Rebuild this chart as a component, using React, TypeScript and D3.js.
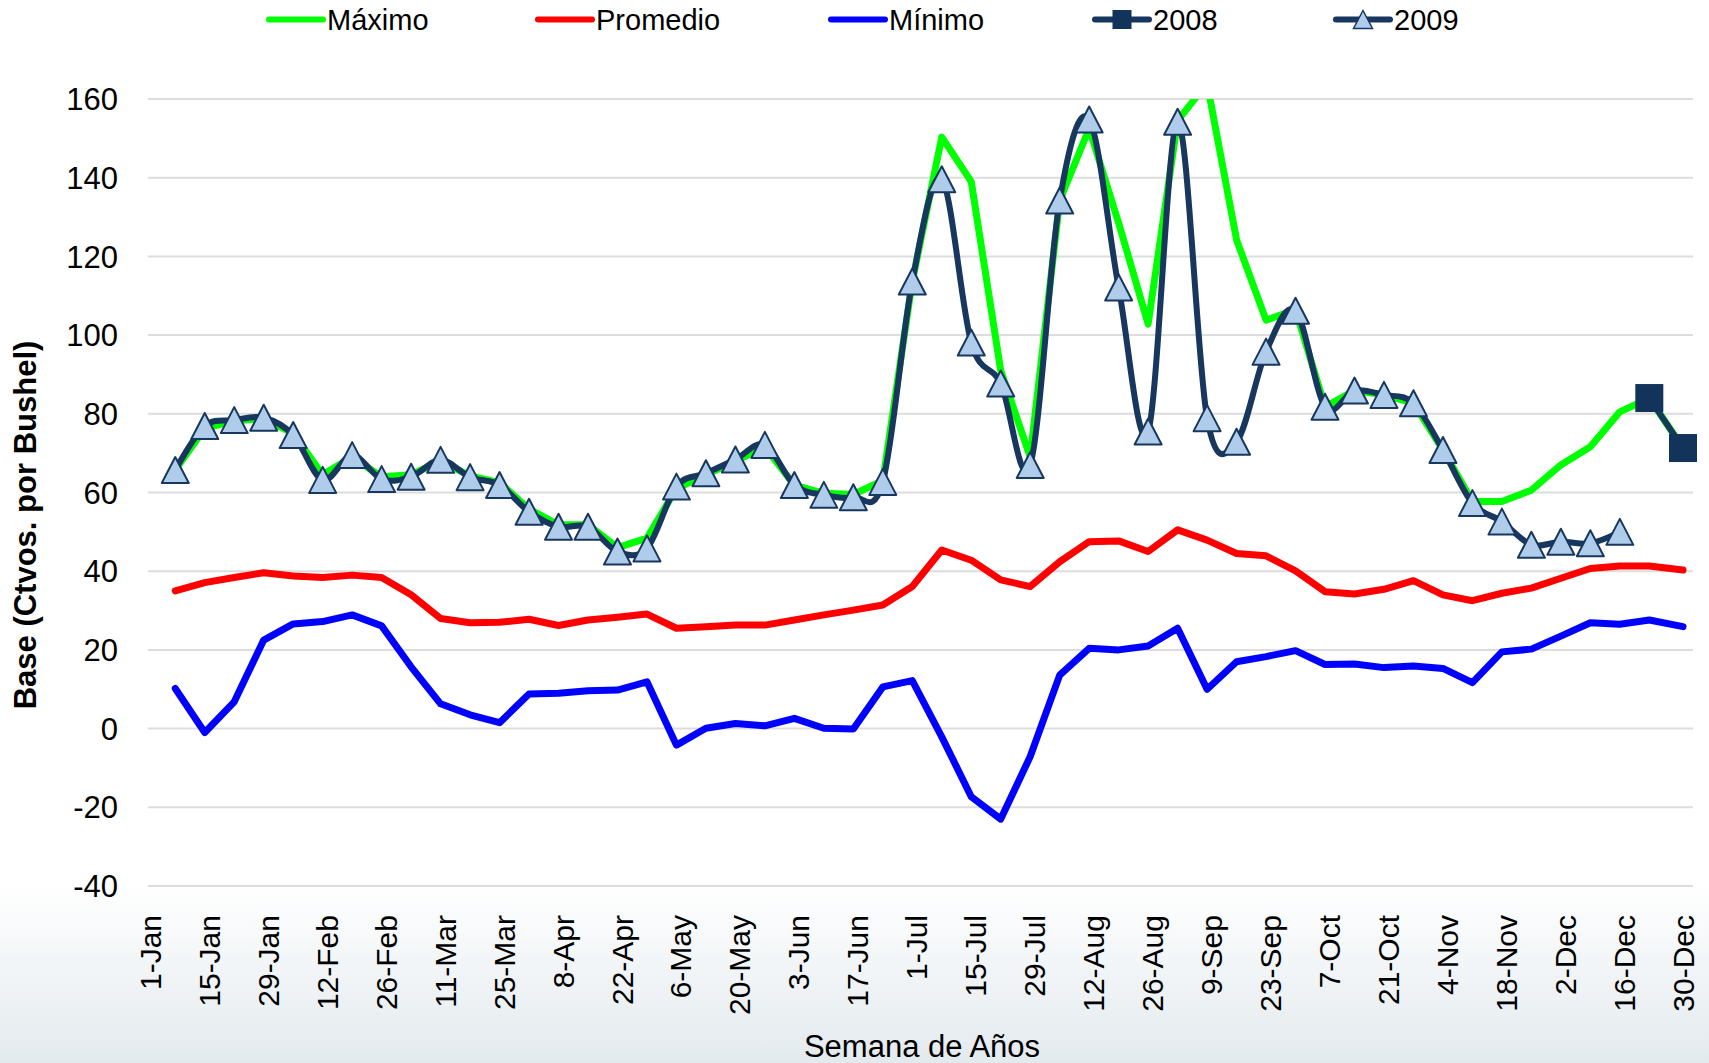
import React, { useEffect, useRef } from "react";
import * as d3 from "d3";

// Semanas (fechas de cada observación semanal)
const weeks = [
  "7-Jan", "14-Jan", "21-Jan", "28-Jan", "4-Feb", "11-Feb", "18-Feb", "25-Feb",
  "3-Mar", "10-Mar", "17-Mar", "24-Mar", "31-Mar", "7-Apr", "14-Apr", "21-Apr",
  "28-Apr", "5-May", "12-May", "19-May", "26-May", "2-Jun", "9-Jun", "16-Jun",
  "23-Jun", "30-Jun", "7-Jul", "14-Jul", "21-Jul", "28-Jul", "4-Aug", "11-Aug",
  "18-Aug", "25-Aug", "1-Sep", "8-Sep", "15-Sep", "22-Sep", "29-Sep", "6-Oct",
  "13-Oct", "20-Oct", "27-Oct", "3-Nov", "10-Nov", "17-Nov", "24-Nov", "1-Dec",
  "8-Dec", "15-Dec", "22-Dec", "30-Dec",
];

const maximo = [
  65.7, 76.3, 78.2, 78.8, 75.0, 64.5, 69.0, 64.0, 64.5, 68.0,
  64.2, 62.5, 55.8, 51.8, 51.8, 46.0, 48.4, 61.0, 64.5, 68.0,
  71.6, 61.9, 59.8, 59.5, 63.0, 113.6, 150.3, 139.0, 91.0, 69.0,
  134.2, 152.5, 128.5, 102.8, 154.5, 164.0, 124.2, 103.8, 106.4, 81.8,
  85.9, 84.8, 82.7, 70.8, 57.7, 57.7, 60.6, 67.0, 71.6, 80.5,
  84.0, 71.3,
];

const promedio = [
  35.0, 37.1, 38.4, 39.6, 38.8, 38.4, 39.0, 38.4, 34.0, 28.0,
  26.9, 27.0, 27.8, 26.2, 27.6, 28.3, 29.1, 25.5, 25.9, 26.3,
  26.3, 27.6, 28.9, 30.1, 31.4, 36.1, 45.4, 42.8, 37.8, 36.1,
  42.4, 47.5, 47.7, 45.0, 50.5, 47.9, 44.5, 43.9, 40.1, 34.8,
  34.2, 35.4, 37.6, 34.0, 32.5, 34.4, 35.7, 38.2, 40.7, 41.3,
  41.3, 40.3,
];

const minimo = [
  10.2, -1.0, 6.8, 22.5, 26.6, 27.2, 28.9, 26.1, 15.7, 6.3,
  3.5, 1.5, 8.8, 9.0, 9.6, 9.8, 11.9, -4.2, 0.1, 1.3,
  0.7, 2.6, 0.1, -0.1, 10.6, 12.2, -2.1, -17.3, -23.0, -7.1,
  13.6, 20.4, 20.0, 21.0, 25.5, 10.0, 17.0, 18.3, 19.8, 16.3,
  16.4, 15.5, 15.9, 15.3, 11.7, 19.5, 20.2, 23.5, 26.9, 26.5,
  27.6, 25.9,
];

// 2009 only covers the first 50 weeks
const serie2009 = [
  65.7, 76.9, 78.4, 79.0, 74.6, 63.2, 69.5, 63.4, 64.0, 68.3,
  63.9, 61.9, 55.1, 51.3, 51.3, 45.0, 45.8, 61.5, 64.9, 68.4,
  72.1, 61.9, 59.4, 58.8, 62.7, 113.6, 139.6, 98.1, 87.7, 67.0,
  134.2, 154.8, 112.1, 75.5, 154.2, 78.9, 72.9, 95.8, 106.2, 81.8,
  85.9, 84.8, 82.7, 70.8, 57.3, 52.6, 46.7, 47.5, 47.1, 50.0,
];

const weeks2008 = ["22-Dec", "30-Dec"];
const serie2008 = [84.0, 71.3];

const xTickLabels = [
  "1-Jan", "15-Jan", "29-Jan", "12-Feb", "26-Feb", "11-Mar", "25-Mar", "8-Apr",
  "22-Apr", "6-May", "20-May", "3-Jun", "17-Jun", "1-Jul", "15-Jul", "29-Jul",
  "12-Aug", "26-Aug", "9-Sep", "23-Sep", "7-Oct", "21-Oct", "4-Nov", "18-Nov",
  "2-Dec", "16-Dec", "30-Dec",
];

const yTicks = [-40, -20, 0, 20, 40, 60, 80, 100, 120, 140, 160];

const legendNames = ["Máximo", "Promedio", "Mínimo", "2008", "2009"];

// layout
const W = 1709;
const H = 1063;
const plot = { left: 148, right: 1693, top: 99, bottom: 886 };
const legendX = [269, 538, 831, 1095, 1336];
const FONT = "'Liberation Sans', Arial, sans-serif";

const GREEN = "#00ff00";
const RED = "#ff0000";
const BLUE = "#0000ff";
const NAVY = "#17375e";
const SQUARE = "#12335a";
const TRI_FILL = "#afcdea";

const parse = (s: string) => d3.timeParse("%d-%b-%Y")(s + "-2008") as Date;

export default function App() {
  const ref = useRef<SVGSVGElement>(null);

  useEffect(() => {
    const svg = d3.select(ref.current);
    svg.selectAll("*").remove();

    const x = d3
      .scaleTime()
      .domain([parse(xTickLabels[0]), parse(xTickLabels[xTickLabels.length - 1])])
      .range([150, 1683]);
    const y = d3.scaleLinear().domain([-40, 160]).range([plot.bottom, plot.top]);

    const defs = svg.append("defs");
    const grad = defs
      .append("linearGradient")
      .attr("id", "bg")
      .attr("x1", 0)
      .attr("y1", 0)
      .attr("x2", 0)
      .attr("y2", 1);
    grad.append("stop").attr("offset", 0).attr("stop-color", "#ffffff");
    grad.append("stop").attr("offset", 0.83).attr("stop-color", "#ffffff");
    grad.append("stop").attr("offset", 1).attr("stop-color", "#e3eaee");

    defs
      .append("clipPath")
      .attr("id", "plotclip")
      .append("rect")
      .attr("x", plot.left)
      .attr("y", plot.top)
      .attr("width", plot.right - plot.left)
      .attr("height", plot.bottom - plot.top);

    svg.append("rect").attr("width", W).attr("height", H).attr("fill", "url(#bg)");

    // gridlines
    svg
      .append("g")
      .selectAll("line")
      .data(yTicks)
      .join("line")
      .attr("x1", plot.left)
      .attr("x2", plot.right)
      .attr("y1", (d) => y(d))
      .attr("y2", (d) => y(d))
      .attr("stroke", "#dddddd")
      .attr("stroke-width", 2);

    // y tick labels
    svg
      .append("g")
      .selectAll("text")
      .data(yTicks)
      .join("text")
      .attr("x", 118)
      .attr("y", (d) => y(d))
      .attr("dy", "0.36em")
      .attr("text-anchor", "end")
      .style("font-family", FONT)
      .style("font-size", "31px")
      .attr("fill", "#000")
      .text((d) => d);

    // x tick labels (rotated)
    svg
      .append("g")
      .selectAll("text")
      .data(xTickLabels)
      .join("text")
      .attr("transform", (d) => `translate(${x(parse(d))},915) rotate(-90)`)
      .attr("dy", "0.36em")
      .attr("text-anchor", "end")
      .style("font-family", FONT)
      .style("font-size", "30px")
      .attr("fill", "#000")
      .text((d) => d);

    // axis titles
    svg
      .append("text")
      .attr("transform", `translate(35.5,525) rotate(-90)`)
      .attr("text-anchor", "middle")
      .style("font-family", FONT)
      .style("font-size", "31px")
      .style("font-weight", "bold")
      .text("Base (Ctvos. por Bushel)");

    svg
      .append("text")
      .attr("x", 922)
      .attr("y", 1057)
      .attr("text-anchor", "middle")
      .style("font-family", FONT)
      .style("font-size", "31px")
      .text("Semana de Años");

    // series lines
    const lines = svg.append("g").attr("clip-path", "url(#plotclip)");
    const straight = d3
      .line<number>()
      .x((_, i) => x(parse(weeks[i])))
      .y((d) => y(d));

    const addLine = (data: number[], color: string, width: number, gen: any) =>
      lines
        .append("path")
        .datum(data)
        .attr("d", gen)
        .attr("fill", "none")
        .attr("stroke", color)
        .attr("stroke-width", width)
        .attr("stroke-linejoin", "round")
        .attr("stroke-linecap", "round");

    addLine(maximo, GREEN, 7, straight);
    addLine(promedio, RED, 7, straight);
    addLine(minimo, BLUE, 7, straight);

    const line2008 = d3
      .line<number>()
      .x((_, i) => x(parse(weeks2008[i])))
      .y((d) => y(d));
    addLine(serie2008, NAVY, 6, line2008);

    const smooth = d3
      .line<number>()
      .x((_, i) => x(parse(weeks[i])))
      .y((d) => y(d))
      .curve(d3.curveCardinal.tension(0));
    addLine(serie2009, NAVY, 6, smooth);

    // markers
    const tri = (w: number, h: number) => `M0,${-h / 2}L${w / 2},${h / 2}L${-w / 2},${h / 2}Z`;

    svg
      .append("g")
      .selectAll("rect")
      .data(serie2008)
      .join("rect")
      .attr("x", (_, i) => x(parse(weeks2008[i])) - 14)
      .attr("y", (d) => y(d) - 14)
      .attr("width", 28)
      .attr("height", 28)
      .attr("fill", SQUARE);

    svg
      .append("g")
      .selectAll("path")
      .data(serie2009)
      .join("path")
      .attr("transform", (d, i) => `translate(${x(parse(weeks[i]))},${y(d)})`)
      .attr("d", tri(27, 26))
      .attr("fill", TRI_FILL)
      .attr("stroke", NAVY)
      .attr("stroke-width", 2)
      .attr("stroke-linejoin", "round");

    // legend
    const legColors = [GREEN, RED, BLUE, NAVY, NAVY];
    const leg = svg
      .append("g")
      .selectAll("g")
      .data(legendNames)
      .join("g")
      .attr("transform", (_, i) => `translate(${legendX[i]},19.5)`);

    leg
      .append("line")
      .attr("x1", 0)
      .attr("x2", 54)
      .attr("stroke", (_, i) => legColors[i])
      .attr("stroke-width", 6)
      .attr("stroke-linecap", "round");

    leg
      .filter((_, i) => i === 3)
      .append("rect")
      .attr("x", 27 - 9.5)
      .attr("y", -9.5)
      .attr("width", 19)
      .attr("height", 19)
      .attr("fill", SQUARE);

    leg
      .filter((_, i) => i === 4)
      .append("path")
      .attr("transform", "translate(27,0)")
      .attr("d", tri(19, 18))
      .attr("fill", TRI_FILL)
      .attr("stroke", NAVY)
      .attr("stroke-width", 1.5);

    leg
      .append("text")
      .attr("x", 58)
      .attr("y", 10.5)
      .style("font-family", FONT)
      .style("font-size", "29px")
      .attr("fill", "#000")
      .text((d) => d);
  }, []);

  return (
    <svg
      ref={ref}
      width={W}
      height={H}
      style={{ position: "absolute", left: 0, top: 0, display: "block" }}
    />
  );
}
